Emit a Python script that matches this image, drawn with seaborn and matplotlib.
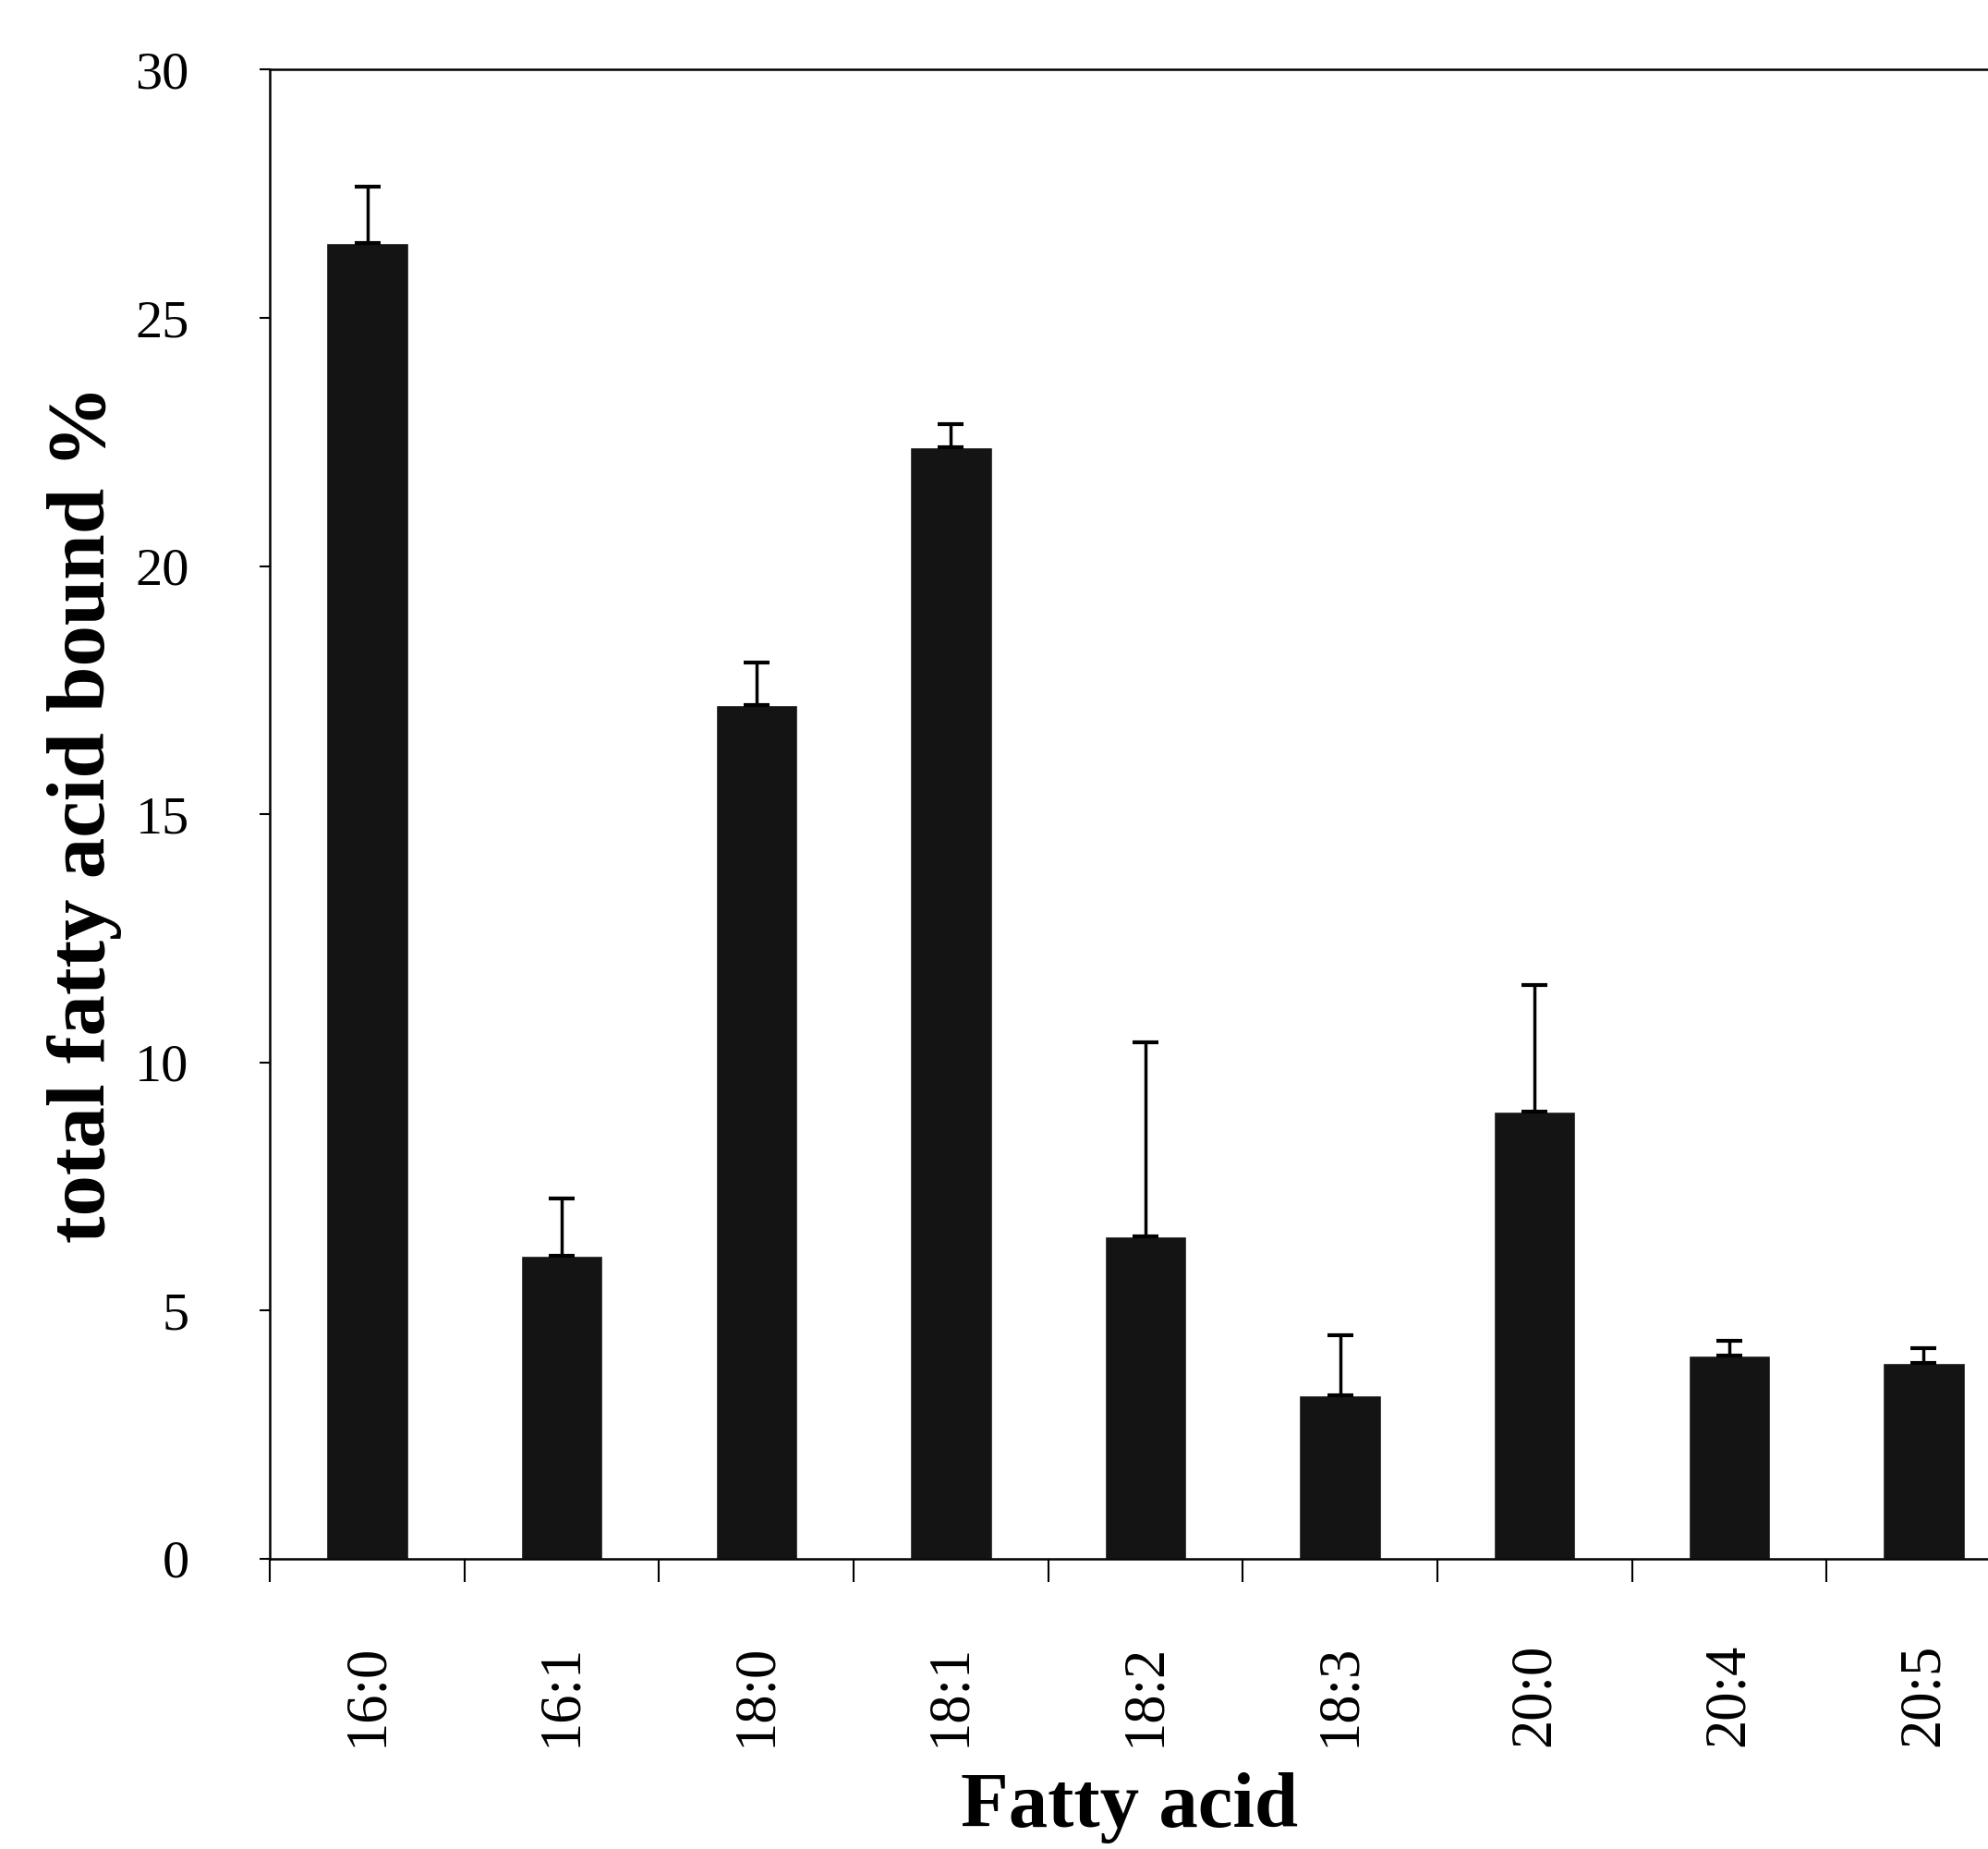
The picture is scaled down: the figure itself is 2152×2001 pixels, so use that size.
import numpy as np
import pandas as pd
import matplotlib.pyplot as plt
import seaborn as sns

# values
acids = ['16:0', '16:1', '18:0', '18:1', '18:2', '18:3', '20:0', '20:4', '20:5']
bound = [26.5, 6.1, 17.2, 22.4, 6.5, 3.3, 9.0, 4.1, 3.95]
err_up = [1.15, 1.15, 0.85, 0.45, 3.9, 1.2, 2.55, 0.3, 0.3]

sns.set_style('white')
plt.rcParams['font.family'] = ['Liberation Serif', 'DejaVu Serif']
plt.rcParams['text.color'] = 'black'
plt.rcParams['axes.labelcolor'] = 'black'
plt.rcParams['xtick.color'] = 'black'
plt.rcParams['ytick.color'] = 'black'

df = pd.DataFrame({'Fatty acid': acids, 'bound': bound})

fig = plt.figure(figsize=(21.52, 20.01), dpi=100)
ax = fig.add_axes([0.1358, 0.157, 0.8642, 0.8053])

sns.barplot(data=df, x='Fatty acid', y='bound', color='#141414',
            saturation=1, width=0.42, errorbar=None, ax=ax)

pos = np.arange(len(acids))
ax.errorbar(pos, bound, yerr=[np.zeros(len(err_up)), err_up], fmt='none',
            ecolor='black', elinewidth=2.5, capsize=10, capthick=3)

ax.set_ylim(0, 30)
ax.set_xlim(-0.5, 8.33)
ax.set_yticks([0, 5, 10, 15, 20, 25, 30])
ax.set_xticks(pos)
ax.set_xticklabels(acids, rotation=90)
ax.set_xticks(np.arange(-0.5, 8.5, 1), minor=True)
ax.tick_params(axis='x', which='both', bottom=True)
ax.tick_params(axis='y', which='both', left=True)
ax.tick_params(axis='x', which='major', length=0, labelsize=45, pad=66)
ax.tick_params(axis='x', which='minor', length=18, width=1.5, direction='out')
ax.tick_params(axis='y', length=8, width=1.5, direction='out',
               labelsize=42, pad=55)

for side in ['left', 'bottom', 'top']:
    ax.spines[side].set_color('black')
    ax.spines[side].set_linewidth(1.8)
ax.spines['right'].set_visible(False)

ax.set_xlabel('Fatty acid', fontsize=61, fontweight='bold', labelpad=20)
ax.set_ylabel('total fatty acid bound %', fontsize=64, fontweight='bold', labelpad=10)

fig.savefig('out.png', dpi=100)
